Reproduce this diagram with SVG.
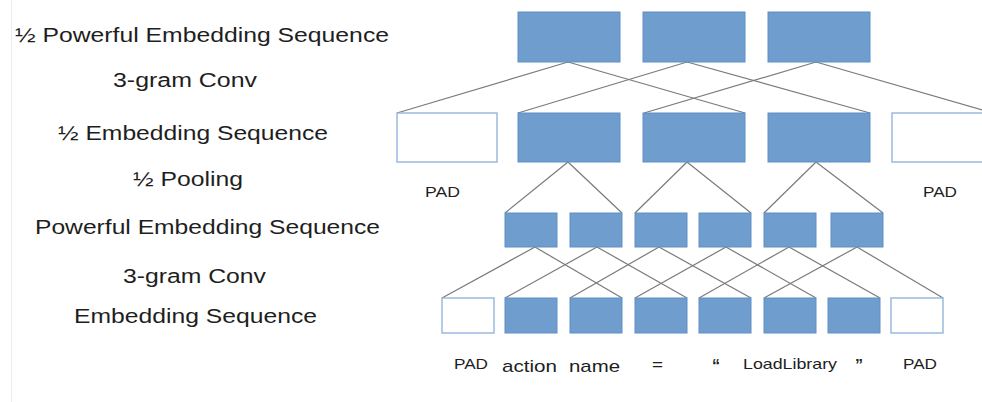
<svg xmlns="http://www.w3.org/2000/svg" width="982" height="402" viewBox="0 0 982 402">
<style>
.f{fill:#6f9dcd;stroke:#5f8fc6;stroke-width:1}
.p{fill:#ffffff;stroke:#95b5dc;stroke-width:1.4}
.c line{stroke:#7a7a7a;stroke-width:1.2}
text{font-family:"Liberation Sans",Arial,sans-serif;fill:#1e1e1e}
.lab{font-size:20px}
.tok{font-size:15px}
.tk2{font-size:17px}
.q{font-size:16px;font-weight:bold}
</style>
<rect x="0" y="0" width="982" height="402" fill="#ffffff"/>
<line x1="11.5" y1="0" x2="11.5" y2="402" stroke="#ececec" stroke-width="1"/>
<g id="labels">
<text class="lab" x="15" y="42" textLength="374" lengthAdjust="spacingAndGlyphs">½ Powerful Embedding Sequence</text>
<text class="lab" x="113" y="87" textLength="144" lengthAdjust="spacingAndGlyphs">3-gram Conv</text>
<text class="lab" x="58" y="140" textLength="270" lengthAdjust="spacingAndGlyphs">½ Embedding Sequence</text>
<text class="lab" x="133" y="186" textLength="110" lengthAdjust="spacingAndGlyphs">½ Pooling</text>
<text class="lab" x="35" y="234" textLength="345" lengthAdjust="spacingAndGlyphs">Powerful Embedding Sequence</text>
<text class="lab" x="123" y="283" textLength="143" lengthAdjust="spacingAndGlyphs">3-gram Conv</text>
<text class="lab" x="74" y="323" textLength="243" lengthAdjust="spacingAndGlyphs">Embedding Sequence</text>
</g>
<g id="connectors" class="c">
<line x1="568" y1="62" x2="397" y2="113"/>
<line x1="568" y1="62" x2="745" y2="113"/>
<line x1="687" y1="62" x2="518" y2="113"/>
<line x1="687" y1="62" x2="870" y2="113"/>
<line x1="816" y1="62" x2="644" y2="113"/>
<line x1="816" y1="62" x2="993" y2="113"/>
<line x1="568" y1="162" x2="505" y2="213"/>
<line x1="568" y1="162" x2="622" y2="213"/>
<line x1="687" y1="162" x2="635" y2="213"/>
<line x1="687" y1="162" x2="751" y2="213"/>
<line x1="816" y1="162" x2="764" y2="213"/>
<line x1="816" y1="162" x2="883" y2="213"/>
<line x1="535" y1="247" x2="442" y2="298"/>
<line x1="535" y1="247" x2="622" y2="298"/>
<line x1="597" y1="247" x2="505" y2="298"/>
<line x1="597" y1="247" x2="687" y2="298"/>
<line x1="659" y1="247" x2="570" y2="298"/>
<line x1="659" y1="247" x2="751" y2="298"/>
<line x1="726" y1="247" x2="635" y2="298"/>
<line x1="726" y1="247" x2="816" y2="298"/>
<line x1="789" y1="247" x2="699" y2="298"/>
<line x1="789" y1="247" x2="880" y2="298"/>
<line x1="857" y1="247" x2="764" y2="298"/>
<line x1="857" y1="247" x2="943" y2="298"/>
</g>
<g id="top-row">
<g id="t1"><rect class="f" x="518" y="12" width="102" height="50"/></g>
<g id="t2"><rect class="f" x="643" y="12" width="102" height="50"/></g>
<g id="t3"><rect class="f" x="768" y="12" width="102" height="50"/></g>
</g>
<g id="half-row">
<g id="h0"><rect class="p" x="397" y="113" width="100" height="49"/><text class="tok" x="425" y="197" textLength="35" lengthAdjust="spacingAndGlyphs">PAD</text></g>
<g id="h1"><rect class="f" x="518" y="113" width="102" height="49"/></g>
<g id="h2"><rect class="f" x="643" y="113" width="102" height="49"/></g>
<g id="h3"><rect class="f" x="768" y="113" width="102" height="49"/></g>
<g id="h4"><rect class="p" x="892" y="113" width="101" height="49"/><text class="tok" x="923" y="197" textLength="34" lengthAdjust="spacingAndGlyphs">PAD</text></g>
</g>
<g id="powerful-row">
<g id="w1"><rect class="f" x="505" y="213" width="52" height="34"/></g>
<g id="w2"><rect class="f" x="570" y="213" width="52" height="34"/></g>
<g id="w3"><rect class="f" x="635" y="213" width="52" height="34"/></g>
<g id="w4"><rect class="f" x="699" y="213" width="52" height="34"/></g>
<g id="w5"><rect class="f" x="764" y="213" width="52" height="34"/></g>
<g id="w6"><rect class="f" x="831" y="213" width="52" height="34"/></g>
</g>
<g id="embedding-row">
<g id="e0"><rect class="p" x="442" y="298" width="52" height="35"/><text class="tok" x="454" y="369" textLength="34" lengthAdjust="spacingAndGlyphs">PAD</text></g>
<g id="e1"><rect class="f" x="505" y="298" width="52" height="35"/><text class="tk2" x="502" y="372" textLength="55" lengthAdjust="spacingAndGlyphs">action</text></g>
<g id="e2"><rect class="f" x="570" y="298" width="52" height="35"/><text class="tk2" x="569" y="372" textLength="51" lengthAdjust="spacingAndGlyphs">name</text></g>
<g id="e3"><rect class="f" x="635" y="298" width="52" height="35"/><text class="tok" x="652" y="370" textLength="11" lengthAdjust="spacingAndGlyphs">=</text></g>
<g id="e4"><rect class="f" x="699" y="298" width="52" height="35"/><text class="q" x="712" y="371">“</text></g>
<g id="e5"><rect class="f" x="764" y="298" width="52" height="35"/><text class="tok" x="743" y="369" textLength="94" lengthAdjust="spacingAndGlyphs">LoadLibrary</text></g>
<g id="e6"><rect class="f" x="828" y="298" width="52" height="35"/><text class="q" x="855" y="371">”</text></g>
<g id="e7"><rect class="p" x="891" y="298" width="52" height="35"/><text class="tok" x="903" y="369" textLength="34" lengthAdjust="spacingAndGlyphs">PAD</text></g>
</g>
</svg>
